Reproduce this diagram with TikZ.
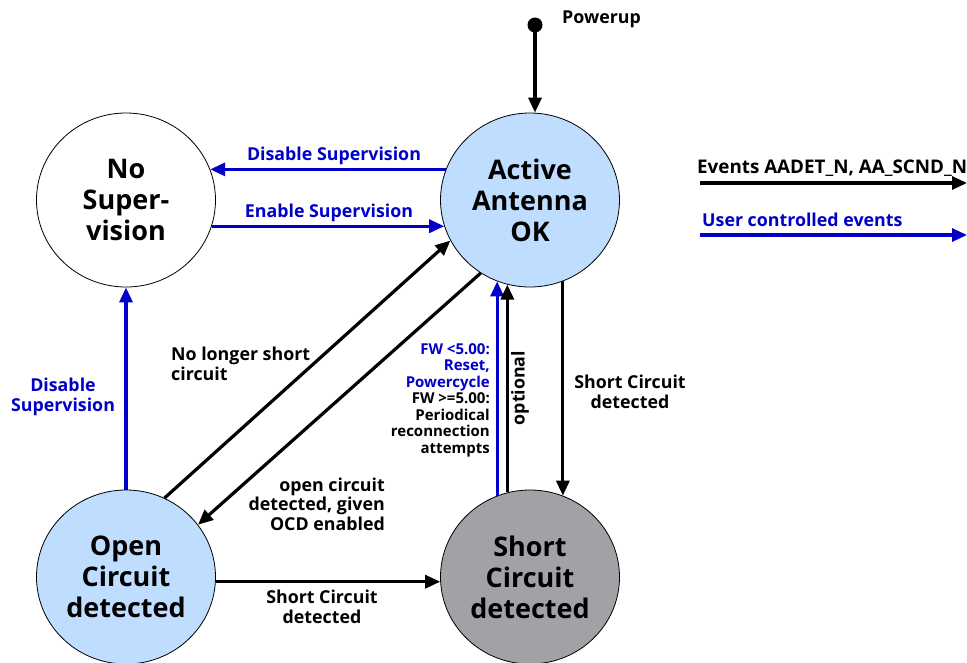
\documentclass[tikz,border=0pt]{standalone}
\usepackage{fontspec}
\setmainfont{Open Sans}
\usetikzlibrary{shapes.geometric,arrows.meta}
\definecolor{ublue}{RGB}{0,0,200}
\definecolor{lblue}{RGB}{191,222,255}
\definecolor{sgray}{RGB}{162,161,166}
\begin{document}
\begin{tikzpicture}[x=1pt,y=-1pt,
  state/.style={ellipse,draw,line width=0.8pt,minimum width=179pt,minimum height=174pt,inner sep=0pt,align=center,font=\bfseries\fontsize{27}{31}\selectfont},
  ev/.style={line width=3.2pt,-{Triangle[length=15pt,width=13pt]}},
  uev/.style={ev,draw=ublue},
  lbl/.style={font=\bfseries\fontsize{17.8}{19.5}\selectfont,align=center,inner sep=0pt},
  fwlbl/.style={font=\bfseries\fontsize{15}{16.5}\selectfont,align=right,inner sep=0pt,anchor=east}
]
\useasboundingbox (0,0) rectangle (967,662);
\node[state] (NS) at (126,200) {No\\Super-\\vision};
\node[state,fill=lblue] (AA) at (530,200) {Active\\Antenna\\OK};
\node[state,fill=lblue] (OC) at (126,577) {Open\\Circuit\\detected};
\node[state,fill=sgray] (SC) at (530,577) {Short\\Circuit\\detected};
\node[circle,fill,inner sep=0pt,minimum size=15pt] (PU) at (535,25) {};
\node[lbl,anchor=west] (lpu) at (562,19) {Powerup};

\node[lbl,text=ublue] (ldis) at (334,156) {Disable Supervision};
\node[lbl,text=ublue] (len) at (329,213) {Enable Supervision};
\node[lbl,text=ublue] (ldis2) at (63,397) {Disable\\Supervision};
\node[lbl,align=left,anchor=west] (lnl) at (171,364) {No longer short\\circuit};
\node[lbl,align=right,anchor=east] (loc) at (385,504) {open circuit\\detected, given\\OCD enabled};
\node[lbl] (lsc1) at (322,607) {Short Circuit\\detected};
\node[lbl] (lsc2) at (630,392) {Short Circuit\\detected};
\node[lbl,rotate=90] (lopt) at (520,388) {optional};
\node[fwlbl] (lfw) at (490,400) {\textcolor{ublue}{FW <5.00:}\\\textcolor{ublue}{Reset,}\\\textcolor{ublue}{Powercycle}\\FW >=5.00:\\Periodical\\reconnection\\attempts};

\node[lbl,anchor=west,font=\bfseries\fontsize{18.8}{21}\selectfont] (lev) at (697,168) {Events AADET\_N, AA\_SCND\_N};
\node[lbl,anchor=west,text=ublue] (luev) at (702,220) {User controlled events};
\coordinate (e1a) at (700,183);
\coordinate (e1b) at (967,183);
\coordinate (e2a) at (700,235);
\coordinate (e2b) at (967,235);
\draw[ev] (e1a) -- (e1b);
\draw[uev] (e2a) -- (e2b);

\draw[ev] (PU.center) -- (PU |- AA.north);
\draw[uev] (AA.160) -- (NS.20);
\draw[uev] (NS.-17) -- (AA.197);
\draw[uev] (OC.north) -- (NS.south);
\draw[ev] (OC.64) -- (AA.207.5);
\draw[ev] (AA.236) -- (OC.36);
\draw[ev] (OC.-3) -- (SC.183);
\draw[ev] (AA.-68) -- (SC.68);
\draw[uev] (SC.112) -- (AA.248);
\draw[ev] (SC.105) -- (AA.255);
\end{tikzpicture}
\end{document}
